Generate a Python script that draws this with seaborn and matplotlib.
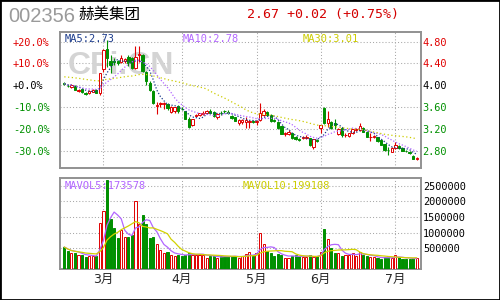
import numpy as np
import pandas as pd
import matplotlib
matplotlib.use("Agg")
import matplotlib.pyplot as plt
from matplotlib.patches import Rectangle
import seaborn as sns

# ---------------- data ----------------
stock_code = "002356"
stock_name = "赫美集团"
quote_text = "2.67 +0.02 (+0.75%)"

month_labels = ["2月", "3月", "4月", "5月", "6月", "7月"]
month_sessions = [11, 22, 21, 18, 21, 7]

opens = [4.04, 3.99, 3.97, 3.98, 3.90, 3.93, 3.86, 3.85, 3.88, 3.92,
         3.85, 4.29, 4.66, 4.45, 4.44, 4.44, 4.43, 4.44, 4.52, 4.50,
         4.32, 4.55, 4.56, 4.25, 4.05, 3.90, 3.62, 3.65, 3.66, 3.66,
         3.51, 3.52, 3.62, 3.57, 3.52, 3.39, 3.27, 3.43, 3.46, 3.48,
         3.50, 3.53, 3.51, 3.41, 3.50, 3.53, 3.51, 3.44, 3.41, 3.31,
         3.32, 3.33, 3.33, 3.34, 3.32, 3.36, 3.46, 3.51, 3.46, 3.36,
         3.33, 3.25, 3.11, 3.11, 3.12, 3.06, 3.01, 3.04, 3.04, 3.03,
         2.87, 2.99, 3.21, 3.58, 3.30, 3.33, 3.31, 3.10, 3.21, 3.08,
         3.07, 3.12, 3.18, 3.18, 3.22, 3.15, 3.05, 3.06, 3.05, 2.99,
         2.92, 2.82, 2.78, 2.85, 2.89, 2.85, 2.80, 2.77, 2.71, 2.65]
highs = [4.06, 4.02, 4.02, 4.00, 3.94, 3.95, 3.88, 3.91, 3.94, 3.93,
         4.23, 4.66, 4.83, 4.56, 4.50, 4.47, 4.55, 4.50, 4.55, 4.52,
         4.72, 4.72, 4.58, 4.27, 4.07, 3.92, 3.70, 3.70, 3.70, 3.67,
         3.62, 3.61, 3.64, 3.60, 3.53, 3.42, 3.39, 3.48, 3.50, 3.52,
         3.54, 3.56, 3.52, 3.49, 3.52, 3.55, 3.54, 3.46, 3.42, 3.38,
         3.38, 3.41, 3.36, 3.36, 3.37, 3.67, 3.56, 3.53, 3.47, 3.38,
         3.34, 3.26, 3.15, 3.18, 3.13, 3.07, 3.03, 3.07, 3.08, 3.04,
         3.02, 3.01, 3.28, 3.60, 3.52, 3.35, 3.38, 3.21, 3.22, 3.12,
         3.13, 3.20, 3.22, 3.31, 3.24, 3.16, 3.12, 3.09, 3.06, 3.00,
         2.93, 2.87, 2.86, 2.96, 2.90, 2.86, 2.82, 2.79, 2.72, 2.68]
lows = [4.00, 3.96, 3.95, 3.91, 3.88, 3.86, 3.82, 3.84, 3.87, 3.85,
        3.83, 4.25, 4.34, 4.22, 4.38, 4.38, 4.41, 4.40, 4.36, 4.30,
        4.30, 4.43, 4.24, 4.00, 3.90, 3.66, 3.47, 3.60, 3.56, 3.55,
        3.49, 3.50, 3.50, 3.54, 3.38, 3.22, 3.25, 3.41, 3.43, 3.46,
        3.49, 3.48, 3.42, 3.38, 3.46, 3.50, 3.48, 3.39, 3.34, 3.28,
        3.29, 3.21, 3.22, 3.31, 3.27, 3.34, 3.44, 3.44, 3.33, 3.33,
        3.20, 3.10, 3.07, 3.09, 3.02, 3.00, 2.98, 3.02, 3.02, 2.89,
        2.84, 2.96, 3.12, 3.29, 3.24, 3.20, 3.20, 3.08, 3.06, 3.05,
        3.06, 3.11, 3.16, 3.17, 3.14, 3.05, 2.97, 3.04, 2.96, 2.90,
        2.79, 2.72, 2.77, 2.84, 2.84, 2.79, 2.77, 2.74, 2.64, 2.63]
closes = [4.03, 3.98, 4.00, 3.92, 3.92, 3.87, 3.84, 3.90, 3.91, 3.86,
          4.22, 4.65, 4.50, 4.38, 4.42, 4.41, 4.50, 4.48, 4.41, 4.32,
          4.52, 4.58, 4.26, 4.07, 3.92, 3.67, 3.64, 3.67, 3.68, 3.58,
          3.61, 3.60, 3.52, 3.56, 3.39, 3.24, 3.38, 3.46, 3.49, 3.50,
          3.52, 3.49, 3.43, 3.48, 3.49, 3.52, 3.50, 3.40, 3.35, 3.36,
          3.37, 3.37, 3.34, 3.33, 3.35, 3.49, 3.53, 3.45, 3.34, 3.35,
          3.21, 3.11, 3.12, 3.15, 3.03, 3.01, 3.00, 3.05, 3.05, 2.91,
          3.01, 2.98, 3.28, 3.30, 3.39, 3.22, 3.28, 3.20, 3.08, 3.09,
          3.12, 3.19, 3.19, 3.26, 3.15, 3.06, 3.06, 3.07, 2.97, 2.91,
          2.81, 2.81, 2.85, 2.90, 2.85, 2.80, 2.79, 2.76, 2.65, 2.67]
volumes = [543000, 412000, 336000, 336000, 303000, 303000, 216000, 270000, 250000, 240000,
           1300000, 1700000, 2690000, 1450000, 1150000, 825000, 1090000, 850000, 850000, 932000,
           2020000, 1280000, 1550000, 1280000, 825000, 868000, 630000, 434000, 359000, 390000,
           303000, 270000, 303000, 250000, 303000, 358000, 303000, 303000, 303000, 303000,
           194000, 249000, 249000, 194000, 249000, 249000, 249000, 249000, 249000, 194000,
           249000, 326000, 391000, 249000, 358000, 978000, 652000, 412000, 336000, 249000,
           326000, 303000, 194000, 194000, 270000, 303000, 249000, 216000, 216000, 281000,
           216000, 270000, 391000, 1120000, 793000, 499000, 336000, 336000, 249000, 303000,
           303000, 358000, 270000, 380000, 281000, 249000, 216000, 216000, 194000, 160000,
           215000, 225000, 190000, 285000, 208000, 165000, 150000, 170000, 185000, 198000]

# average close of the sessions just before the window (read from the MA30 level at the left edge);
# used only to warm up the 30-day moving average
pre_window_close = 4.16
base_price = 4.00  # price corresponding to +0.0% on the left axis

ma_labels = ["MA5:2.73", "MA10:2.78", "MA30:3.01"]
vol_ma_labels = ["MAVOL5:173578", "MAVOL10:199108"]
price_ticks = [4.80, 4.40, 4.00, 3.60, 3.20, 2.80]
pct_ticks = [20, 10, 0, -10, -20, -30]
vol_ticks = [500000, 1000000, 1500000, 2000000, 2500000]

# ---------------- derived ----------------
df = pd.DataFrame({"open": opens, "high": highs, "low": lows, "close": closes, "vol": volumes})
df["i"] = np.arange(len(df))
warm = pd.Series([pre_window_close] * 29 + closes)
df["ma5"] = df["close"].rolling(5, min_periods=1).mean()
df["ma10"] = df["close"].rolling(10, min_periods=1).mean()
df["ma30"] = warm.rolling(30).mean().iloc[29:].to_numpy()
df["mv5"] = df["vol"].rolling(5, min_periods=1).mean()
df["mv10"] = df["vol"].rolling(10, min_periods=1).mean()
month_starts = np.cumsum([0] + month_sessions[:-1])

# ---------------- style ----------------
sns.set_style("white")
plt.rcParams["font.family"] = ["DejaVu Sans Mono", "Noto Sans CJK SC"]

RED = "#e00000"
GREEN = "#009000"
C_MA5 = "#1c3c8c"
C_MA10 = "#b266ff"
C_MA30 = "#cccc00"
FRAME = "#929292"
GRID = "#a8a8a8"
DOT = (0, (1, 2))

W, H = 500, 300
fig = plt.figure(figsize=(5, 3), dpi=100)
fig.patch.set_facecolor("white")


def box(l, t, r, b):
    return [l / W, 1 - b / H, (r - l) / W, (b - t) / H]


ax = fig.add_axes(box(60.3, 32, 420.5, 167.7))
axv = fig.add_axes(box(60.3, 177.7, 420.5, 269))

for a in (ax, axv):
    a.set_xlim(-1.12, 100.07)
    for s in a.spines.values():
        s.set_color(FRAME)
        s.set_linewidth(1.4)
    a.set_axisbelow(True)
    a.set_xticks(month_starts[1:])
    a.grid(True, axis="both", color=GRID, linestyle=DOT, linewidth=0.75)

# ---------- price panel ----------
ax.set_ylim(2.488, 4.978)
up = df["close"] >= df["open"]
cols = np.where(up, RED, GREEN)
ax.vlines(df["i"], df["low"], df["high"], colors=cols, linewidth=0.8, zorder=3)
body = (df["close"] - df["open"]).abs().clip(lower=0.004)
face = np.where(df["close"] > df["open"], "white", cols)
ax.bar(df["i"], body, bottom=np.minimum(df["open"], df["close"]), width=0.66,
       color=face, edgecolor=cols, linewidth=0.7, zorder=4)

sns.lineplot(x=df["i"], y=df["ma5"], ax=ax, color=C_MA5, linewidth=0.9,
             linestyle=(0, (1, 1.5)), zorder=5)
sns.lineplot(x=df["i"], y=df["ma10"], ax=ax, color=C_MA10, linewidth=0.9,
             linestyle=(0, (1, 1.5)), zorder=5)
sns.lineplot(x=df["i"], y=df["ma30"], ax=ax, color=C_MA30, linewidth=0.9,
             linestyle=(0, (1, 2)), zorder=5)
ax.set_xlabel("")
ax.set_ylabel("")

ax.text(0.021, 0.749, "CFi.CN", transform=ax.transAxes, fontsize=23, fontweight="bold",
        family="Liberation Sans", color="#d4d4d4", va="center", ha="left", zorder=1)

ax.yaxis.tick_right()
ax.set_yticks(price_ticks, labels=[f"{t:.2f}" for t in price_ticks])
ax.tick_params(axis="y", length=0, pad=1.2, labelsize=7.4)
ax.tick_params(axis="x", length=0, labelbottom=False)
for lbl, t in zip(ax.get_yticklabels(), price_ticks):
    lbl.set_color(RED if t > base_price else ("black" if t == base_price else GREEN))

sec = ax.secondary_yaxis("left", functions=(lambda p: (p / base_price - 1) * 100,
                                             lambda r: base_price * (1 + r / 100)))
sec.set_yticks(pct_ticks, labels=[f"{t:+.1f}%" for t in pct_ticks])
sec.tick_params(axis="y", length=0, pad=34, labelsize=7.4)
sec.spines["left"].set_visible(False)
for lbl, t in zip(sec.get_yticklabels(), pct_ticks):
    lbl.set_color(RED if t > 0 else ("black" if t == 0 else GREEN))
    lbl.set_horizontalalignment("left")

for txt, x, c in zip(ma_labels, [65, 183, 303], [C_MA5, C_MA10, C_MA30]):
    fig.text(x / W, 1 - 39 / H, txt, color=c, fontsize=7.5, va="center", ha="left")

# ---------- volume panel ----------
vol_floor, vol_top = -160000, 2756000
axv.set_ylim(vol_floor, vol_top)
vface = np.where(df["close"] > df["open"], "white", cols)
axv.bar(df["i"], df["vol"] - vol_floor, bottom=vol_floor, width=0.6,
        color=vface, edgecolor=cols, linewidth=0.7, zorder=3)
sns.lineplot(x=df["i"], y=df["mv5"], ax=axv, color=C_MA10, linewidth=0.9, zorder=4)
sns.lineplot(x=df["i"], y=df["mv10"], ax=axv, color="#d2d200", linewidth=0.9, zorder=4)
axv.set_xlabel("")
axv.set_ylabel("")
axv.yaxis.tick_right()
axv.set_yticks(vol_ticks, labels=[str(v) for v in vol_ticks])
axv.tick_params(axis="y", length=0, pad=2, labelsize=7.4, labelcolor="black")
axv.set_xticks(month_starts[1:], labels=month_labels[1:])
axv.tick_params(axis="x", length=0, pad=2.5, labelsize=9)
for lbl in axv.get_xticklabels():
    lbl.set_family(["DejaVu Sans", "Noto Sans CJK SC"])

for txt, x, c in zip(vol_ma_labels, [65, 243], [C_MA10, "#cccc00"]):
    fig.text(x / W, 1 - 186 / H, txt, color=c, fontsize=7.5, va="center", ha="left")

# ---------- header ----------
fig.text(8 / W, 1 - 17 / H, stock_code, fontsize=14.5, family="Liberation Sans",
         color="#9a9a9a", va="center", ha="left")
fig.text(78 / W, 1 - 14.5 / H, stock_name, fontsize=11.2, family="Noto Sans CJK SC",
         color="black", va="center", ha="left")
fig.text(247 / W, 1 - 14.5 / H, quote_text, fontsize=9.5, color="#d40000",
         va="center", ha="left")

fig.patches.append(Rectangle((0, 0), 1, 1, transform=fig.transFigure, fill=False,
                             edgecolor="black", linewidth=2.0))

fig.savefig("out.png", dpi=100, facecolor="white")
